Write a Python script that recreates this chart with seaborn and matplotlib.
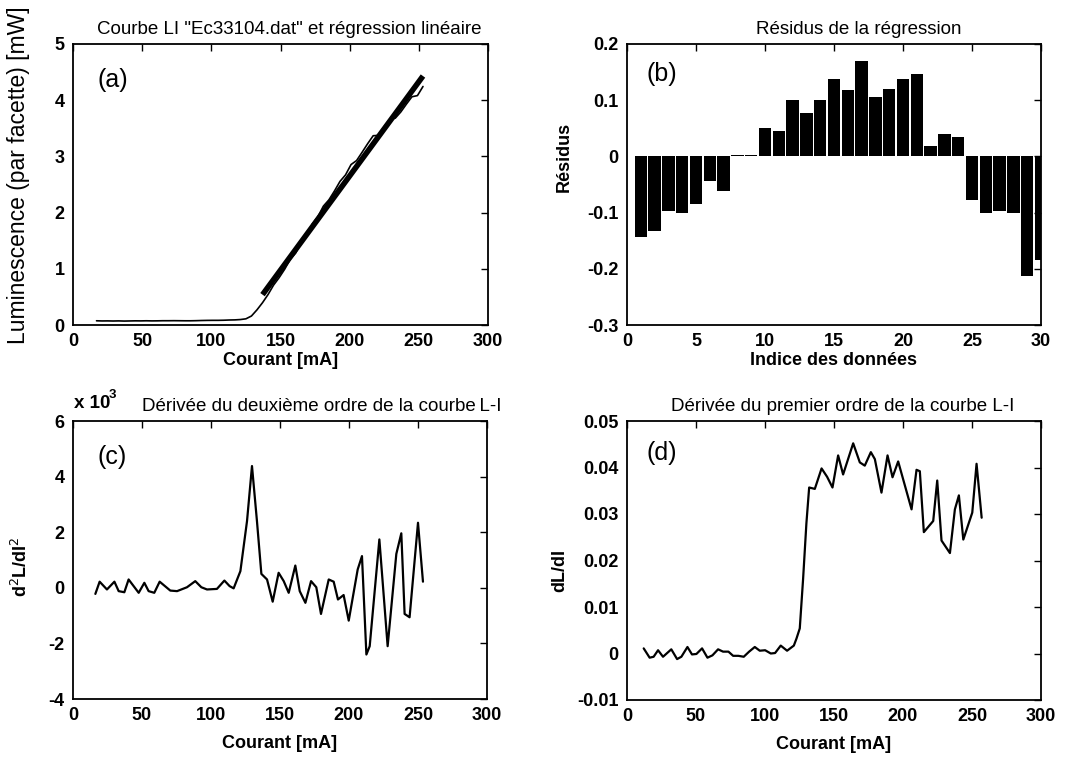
import numpy as np
import pandas as pd
import matplotlib
matplotlib.use("Agg")
import matplotlib.pyplot as plt
import seaborn as sns

# ---------------- data ----------------
# (a) L-I curve
li_current = [17, 21, 25, 29, 33, 37, 41, 45, 49, 53, 57, 61, 65, 69, 73, 77, 81, 85, 89, 93,
              97, 101, 105, 109, 113, 117, 121, 125, 129, 133,
              137, 141, 145, 149, 153, 157, 161, 165, 169, 173, 177, 181, 185, 189, 193,
              197, 201, 205, 209, 213, 217, 221, 225, 229, 233, 237, 241, 245, 249, 253]
li_power = [0.075, 0.072, 0.073, 0.071, 0.073, 0.070, 0.072, 0.074, 0.073, 0.075, 0.073, 0.074,
            0.076, 0.076, 0.077, 0.076, 0.075, 0.075, 0.077, 0.080, 0.082, 0.083, 0.083, 0.085,
            0.089, 0.091, 0.097, 0.110, 0.160, 0.270,
            0.397, 0.542, 0.710, 0.842, 0.992, 1.168, 1.283, 1.482, 1.614, 1.797, 1.926, 2.115,
            2.227, 2.384, 2.555, 2.671, 2.855, 2.926, 3.074, 3.226, 3.368, 3.374, 3.530, 3.658,
            3.681, 3.792, 3.930, 4.061, 4.082, 4.244]
# regression line (endpoints of fitted segment)
fit_current = [137, 253]
fit_power = [0.54, 4.43]

# (b) residuals
res_index = list(range(1, 31))
res_values = [-0.143, -0.132, -0.098, -0.100, -0.084, -0.043, -0.062, 0.003, 0.002, 0.050,
              0.045, 0.100, 0.078, 0.101, 0.138, 0.119, 0.169, 0.106, 0.120, 0.138,
              0.146, 0.018, 0.040, 0.034, -0.077, -0.101, -0.097, -0.100, -0.213, -0.185]

# (c) second derivative (x 10^-3)
d2_current = [16.2, 19.3, 24.6, 30.0, 33.1, 37.2, 40.3, 47.6, 51.7, 54.8, 58.9, 62.8, 70.5, 75.4,
              82.6, 88.6, 93.0, 97.1, 104.3, 109.7, 113.5, 116.4, 121.3, 126.1, 129.7, 133.3,
              136.5, 140.6, 144.7, 149.0, 152.7, 156.3, 161.1, 164.3, 168.4, 172.5, 176.3, 179.7,
              185.3, 188.9, 192.0, 196.1, 199.8, 206.3, 209.4, 212.6, 215.0, 222.0, 228.0, 234.3,
              237.9, 240.3, 243.9, 250.0, 253.6]
d2_values = [-0.22, 0.22, -0.06, 0.22, -0.12, -0.16, 0.30, -0.18, 0.18, -0.12, -0.18, 0.22, -0.10,
             -0.12, 0.02, 0.24, 0.02, -0.06, -0.04, 0.26, 0.06, -0.02, 0.60, 2.40, 4.38, 2.40,
             0.50, 0.30, -0.50, 0.54, 0.24, -0.18, 0.80, -0.12, -0.54, 0.24, 0.02, -0.94,
             0.30, 0.22, -0.42, -0.26, -1.18, 0.66, 1.14, -2.40, -2.10, 1.74, -2.10, 1.22,
             1.96, -0.94, -1.06, 2.34, 0.22]

# (d) first derivative
d1_current = [12.1, 16.4, 19.3, 22.5, 26.1, 32.1, 36.3, 39.4, 43.8, 47.1, 50.3, 54.4, 58.3, 61.9,
              66.0, 69.6, 73.5, 76.9, 80.7, 84.6, 88.5, 92.6, 96.2, 100.1, 104.2, 107.3, 111.4,
              116.0, 120.9, 122.8, 125.2, 127.6, 130.0, 132.0, 136.1, 141.0, 145.0, 148.9, 153.0,
              156.6, 163.9, 168.7, 172.3, 176.7, 179.6, 184.4, 188.8, 192.4, 196.5, 206.2, 209.8,
              212.2, 215.1, 221.9, 224.8, 227.9, 234.0, 237.6, 240.5, 243.7, 250.2, 253.3, 257.0]
d1_values = [0.0011, -0.0009, -0.0007, 0.0007, -0.0007, 0.0009, -0.0012, -0.0007, 0.0014, -0.0002,
             -0.0001, 0.0011, -0.0009, -0.0004, 0.0009, 0.0004, 0.0004, -0.0005, -0.0005, -0.0007,
             0.0004, 0.0014, 0.0006, 0.0007, 0.0000, 0.0001, 0.0017, 0.0006, 0.0017, 0.0032,
             0.0054, 0.0160, 0.0280, 0.0357, 0.0354, 0.0398, 0.0380, 0.0357, 0.0426, 0.0385,
             0.0452, 0.0411, 0.0404, 0.0433, 0.0418, 0.0346, 0.0426, 0.0379, 0.0413, 0.0310,
             0.0395, 0.0392, 0.0261, 0.0285, 0.0372, 0.0243, 0.0216, 0.0310, 0.0340, 0.0245,
             0.0303, 0.0408, 0.0292]

# ---------------- style ----------------
sns.set_theme(style="white")
plt.rcParams['font.family'] = ['Liberation Sans', 'DejaVu Sans']
plt.rcParams['axes.edgecolor'] = 'black'
plt.rcParams['axes.linewidth'] = 1.3
plt.rcParams['text.color'] = 'black'
plt.rcParams['axes.labelcolor'] = 'black'
plt.rcParams['axes.titlecolor'] = 'black'
plt.rcParams['xtick.color'] = 'black'
plt.rcParams['ytick.color'] = 'black'

W, H = 1084, 759
fig = plt.figure(figsize=(W / 100, H / 100), dpi=100)


def px_axes(left, top, right, bottom):
    return fig.add_axes([left / W, (H - bottom) / H, (right - left) / W, (bottom - top) / H])


ax_a = px_axes(73, 44, 488, 325)
ax_b = px_axes(627, 44, 1041, 325)
ax_c = px_axes(73, 421, 487, 699)
ax_d = px_axes(627, 421, 1041, 700)

TICK_FS = 13
TITLE_FS = 13.5
LABEL_FS = 13


def style_axes(ax, xticks, yticks, ylabels):
    ax.set_xticks(xticks)
    ax.set_xticklabels([str(t) for t in xticks], fontsize=TICK_FS, fontweight='bold')
    ax.set_yticks(yticks)
    ax.set_yticklabels(ylabels, fontsize=TICK_FS, fontweight='bold')
    ax.tick_params(direction='in', length=5, width=1, top=True, right=True,
                   colors='black', labelcolor='black', pad=6)
    for s in ax.spines.values():
        s.set_visible(True)
        s.set_color('black')
        s.set_linewidth(1.3)
    ax.grid(False)


# (a)
df_li = pd.DataFrame({"I": li_current, "L": li_power})
df_fit = pd.DataFrame({"I": fit_current, "L": fit_power})
sns.lineplot(data=df_li, x="I", y="L", ax=ax_a, color='black', linewidth=1.2, estimator=None)
sns.lineplot(data=df_fit, x="I", y="L", ax=ax_a, color='black', linewidth=4.0, estimator=None,
             solid_capstyle='butt')
ax_a.set_xlim(0, 300)
ax_a.set_ylim(0, 5)
style_axes(ax_a, [0, 50, 100, 150, 200, 250, 300], [0, 1, 2, 3, 4, 5],
           ['0', '1', '2', '3', '4', '5'])
ax_a.set_xlabel("Courant [mA]", fontsize=LABEL_FS, fontweight='bold', labelpad=1,
                color='black')
ax_a.set_ylabel("")
ax_a.set_title('Courbe LI "Ec33104.dat" et régression linéaire', fontsize=TITLE_FS,
               x=0.52, pad=7, color='black')
ax_a.text(0.058, 0.872, "(a)", transform=ax_a.transAxes, fontsize=18, va='center', ha='left',
          color='black')
fig.text(19 / W, 1 - 175 / H, "Luminescence (par facette) [mW]", rotation=90,
         ha='center', va='center', fontsize=16.5, color='black')

# (b)
df_res = pd.DataFrame({"idx": res_index, "res": res_values})
sns.barplot(data=df_res, x="idx", y="res", ax=ax_b, native_scale=True, width=0.9,
            color='black', edgecolor='black', linewidth=0, errorbar=None, saturation=1)
ax_b.set_xlim(0, 30)
ax_b.set_ylim(-0.3, 0.2)
style_axes(ax_b, [0, 5, 10, 15, 20, 25, 30], [-0.3, -0.2, -0.1, 0, 0.1, 0.2],
           ['-0.3', '-0.2', '-0.1', '0', '0.1', '0.2'])
ax_b.set_xlabel("Indice des données", fontsize=LABEL_FS, fontweight='bold', labelpad=1,
                color='black')
ax_b.set_ylabel("")
ax_b.set_title("Résidus de la régression", fontsize=TITLE_FS, x=0.56, pad=7, color='black')
ax_b.text(0.046, 0.895, "(b)", transform=ax_b.transAxes, fontsize=18, va='center', ha='left',
          color='black')
fig.text(564 / W, 1 - 157 / H, "Résidus", rotation=90, ha='center', va='center',
         fontsize=LABEL_FS, fontweight='bold', color='black')

# (c)
df_d2 = pd.DataFrame({"I": d2_current, "v": d2_values})
sns.lineplot(data=df_d2, x="I", y="v", ax=ax_c, color='black', linewidth=1.6, estimator=None)
ax_c.set_xlim(0, 300)
ax_c.set_ylim(-4, 6)
style_axes(ax_c, [0, 50, 100, 150, 200, 250, 300], [-4, -2, 0, 2, 4, 6],
           ['-4', '-2', '0', '2', '4', '6'])
ax_c.set_xlabel("Courant [mA]", fontsize=LABEL_FS, fontweight='bold', labelpad=8,
                color='black')
ax_c.set_ylabel("")
ax_c.set_title("Dérivée du deuxième ordre de la courbe\u2009L-I", fontsize=TITLE_FS,
               x=0.6, pad=7, color='black')
ax_c.text(0.058, 0.87, "(c)", transform=ax_c.transAxes, fontsize=18, va='center', ha='left',
          color='black')
fig.text(74 / W, 1 - 403 / H, "x 10", ha='left', va='center', fontsize=TITLE_FS,
         fontweight='bold', color='black')
fig.text(109 / W, 1 - 395 / H, "3", ha='left', va='center', fontsize=9.5, fontweight='bold',
         color='black')
fig.text(21 / W, 1 - 567 / H, "d$^2$L/dI$^2$", rotation=90, ha='center', va='center',
         fontsize=LABEL_FS, fontweight='bold', color='black')

# (d)
df_d1 = pd.DataFrame({"I": d1_current, "v": d1_values})
sns.lineplot(data=df_d1, x="I", y="v", ax=ax_d, color='black', linewidth=1.6, estimator=None)
ax_d.set_xlim(0, 300)
ax_d.set_ylim(-0.01, 0.05)
style_axes(ax_d, [0, 50, 100, 150, 200, 250, 300], [-0.01, 0, 0.01, 0.02, 0.03, 0.04, 0.05],
           ['-0.01', '0', '0.01', '0.02', '0.03', '0.04', '0.05'])
ax_d.set_xlabel("Courant [mA]", fontsize=LABEL_FS, fontweight='bold', labelpad=8,
                color='black')
ax_d.set_ylabel("")
ax_d.set_title("Dérivée du premier ordre de la courbe L-I", fontsize=TITLE_FS, x=0.52, pad=7,
               color='black')
ax_d.text(0.046, 0.885, "(d)", transform=ax_d.transAxes, fontsize=18, va='center', ha='left',
          color='black')
fig.text(560 / W, 1 - 570 / H, "dL/dI", rotation=90, ha='center', va='center',
         fontsize=LABEL_FS, fontweight='bold', color='black')

fig.savefig("out.png", dpi=100)
